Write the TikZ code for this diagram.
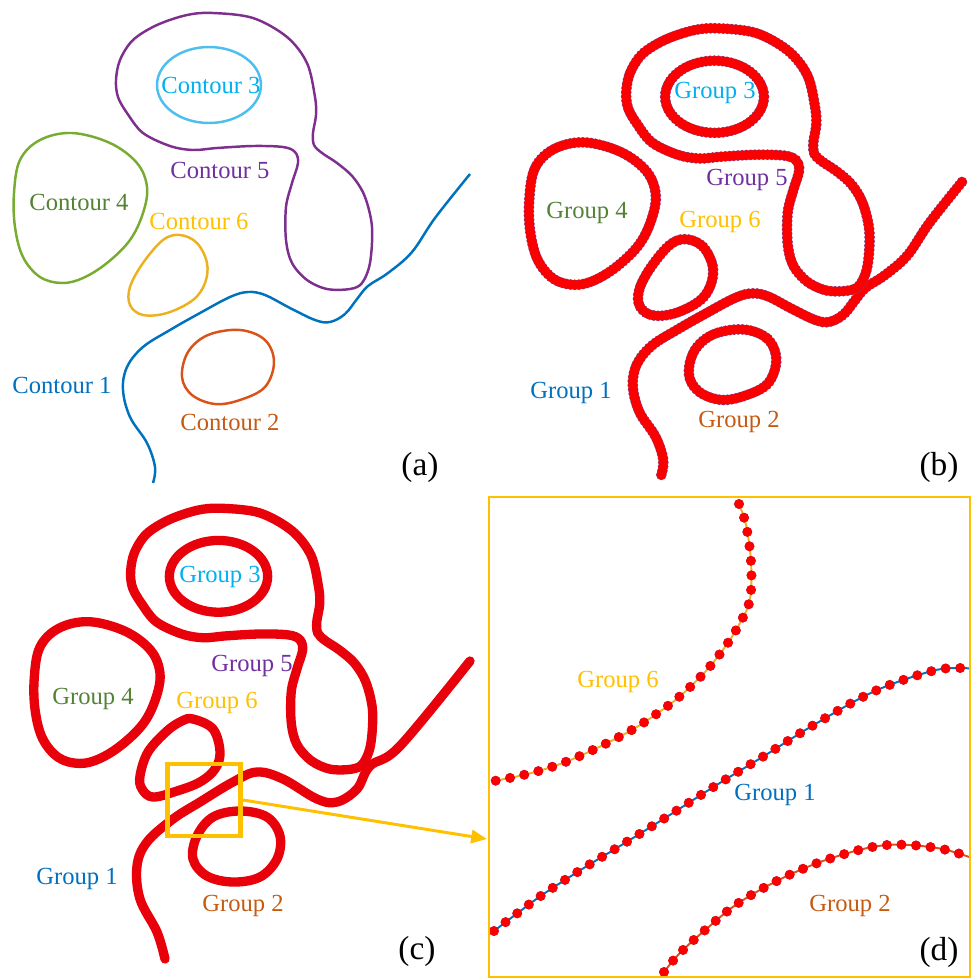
\documentclass[tikz,border=0pt]{standalone}
\usepackage{fontspec}
\setmainfont{Liberation Serif}
\usetikzlibrary{arrows.meta,positioning}
\definecolor{lineone}{RGB}{0,114,189}
\definecolor{linetwo}{RGB}{217,83,25}
\definecolor{linethree}{RGB}{77,190,238}
\definecolor{linefour}{RGB}{119,172,48}
\definecolor{linefive}{RGB}{126,47,142}
\definecolor{linesix}{RGB}{237,177,32}
\definecolor{txtone}{RGB}{0,112,192}
\definecolor{txttwo}{RGB}{197,90,17}
\definecolor{txtthree}{RGB}{0,176,240}
\definecolor{txtfour}{RGB}{84,130,53}
\definecolor{txtfive}{RGB}{112,48,160}
\definecolor{txtsix}{RGB}{255,192,0}
\definecolor{dotred}{RGB}{250,0,0}
\definecolor{dotrim}{RGB}{130,70,140}
\definecolor{fatred}{RGB}{232,0,10}
\definecolor{frameyellow}{RGB}{255,192,0}

% contour shapes of panel (a), pixel units
\def\conone{plot[smooth,tension=.6] coordinates {(153,483) (155,467) (147,443) (130,417) (123,390) (127,367) (143,347) (170,330) (200,313) (230,297) (248,292) (265,295) (290,308) (315,320) (330,322) (345,314) (357,299) (368,286) (388,273) (412,252) (435,218) (470,174)}}
\def\contwo{plot[smooth cycle,tension=.6] coordinates {(240,330) (265,340) (274,362) (265,387) (240,400) (215,404) (192,395) (182,377) (188,352) (208,335)}}
\def\conthree{(209,85) ellipse [x radius=52, y radius=38]}
\def\confour{plot[smooth cycle,tension=.6] coordinates {(72,133) (110,143) (137,163) (147,187) (143,213) (130,240) (107,263) (83,278) (62,283) (40,277) (23,257) (15,227) (14,193) (20,160) (40,140)}}
\def\confive{plot[smooth cycle,tension=.55] coordinates {(116,80) (120,60) (133,40) (157,25) (187,15) (213,13) (253,18) (287,37) (307,63) (315,97) (316,115) (313,133) (314,145) (322,153) (337,163) (353,177) (365,197) (372,227) (370,263) (362,283) (350,289) (327,289) (307,280) (292,263) (286,240) (286,207) (292,183) (298,163) (295,152) (283,147) (253,146) (217,148) (193,150) (170,146) (143,133) (127,113) (118,97)}}
\def\consix{plot[smooth cycle,tension=.6] coordinates {(180,235) (197,243) (207,263) (205,283) (193,300) (167,313) (143,315) (130,305) (130,287) (143,263) (163,240)}}
% shapes that moved in panel (c)
\def\gcone{plot[smooth,tension=.6] coordinates {(165,959) (157,932) (140,899) (137,866) (147,842) (173,819) (200,802) (233,782) (257,772) (283,779) (317,799) (337,802) (357,789) (370,766) (400,746) (470,661)}}
\def\gctwo{plot[smooth cycle,tension=.6] coordinates {(240,811) (267,817) (280,836) (277,859) (260,877) (233,882) (207,876) (193,859) (197,836) (213,817)}}
\def\gcsix{plot[smooth cycle,tension=.6] coordinates {(193,719) (213,729) (220,752) (215,769) (200,782) (177,791) (153,797) (142,789) (140,776) (148,752) (167,731) (182,721)}}
% zoomed pieces of panel (d)
\def\gdsix{plot[smooth,tension=.6] coordinates {(739,504) (746,525) (751,562) (750,599) (740,623) (725,647) (705,672) (679,697) (655,715) (630,731) (597,748) (568,761) (542,770) (519,776) (494,781)}}
\def\gdone{plot[smooth,tension=.6] coordinates {(494,931) (515,915) (545,893) (587,866) (620,846) (665,818) (715,786) (764,756) (817,723) (875,691) (932,671) (960,668) (972,669)}}
\def\gdtwo{plot[smooth,tension=.6] coordinates {(664,972) (679,954) (704,931) (740,902) (789,875) (838,856) (887,845) (937,848) (972,858)}}

\begin{document}
\begin{tikzpicture}[x=0.02cm,y=-0.02cm,
  contour/.style={line width=1.4pt},
  beads/.style n args={3}{postaction={draw=dotrim,line width=#3,dash pattern=on 0pt off #1,line cap=round},
    postaction={draw=dotred,line width=#2,dash pattern=on 0pt off #1,line cap=round}},
  fatline/.style={draw=fatred,line width=5.3pt,line cap=round},
  lbl/.style={font=\fontsize{14}{16}\selectfont,inner sep=0pt},
  tag/.style={font=\fontsize{19}{22}\selectfont,inner sep=0pt},
  zoomframe/.style={draw=frameyellow,line width=2.8pt,minimum width=1.46cm,minimum height=1.44cm},
  pointer/.style={draw=frameyellow,line width=1.7pt,-{Triangle[length=9pt,width=7.5pt]}}]
\useasboundingbox (0,0) rectangle (974,978);
% (a) extracted contours
\draw[contour,lineone] \conone;
\draw[contour,linetwo] \contwo;
\draw[contour,linethree] \conthree;
\draw[contour,linefour] \confour;
\draw[contour,linefive] \confive;
\draw[contour,linesix] \consix;
\node[lbl,text=txtthree] (a-c3) at (211,85) {Contour 3};
\node[lbl,text=txtfive] (a-c5) at (220,170) {Contour 5};
\node[lbl,text=txtfour] (a-c4) at (79,202) {Contour 4};
\node[lbl,text=txtsix] (a-c6) at (199,221) {Contour 6};
\node[lbl,text=txtone] (a-c1) at (62,385) {Contour 1};
\node[lbl,text=txttwo] (a-c2) at (230,422) {Contour 2};
\node[tag] (tag-a) at (420,467) {(a)};
% (b) sampled points on each contour
\begin{scope}[shift={(516,16)},scale=.95]
\draw[contour,lineone,beads={2.4pt}{5.6pt}{6.1pt}] \conone;
\draw[contour,linetwo,beads={2.4pt}{5.6pt}{6.1pt}] \contwo;
\draw[contour,linethree,beads={2.4pt}{5.6pt}{6.1pt}] \conthree;
\draw[contour,linefour,beads={2.4pt}{5.6pt}{6.1pt}] \confour;
\draw[contour,linefive,beads={2.4pt}{5.6pt}{6.1pt}] \confive;
\draw[contour,linesix,beads={2.4pt}{5.6pt}{6.1pt}] \consix;
\end{scope}
\node[lbl,text=txtthree] (b-g3) at (715,93) {Group 3};
\node[lbl,text=txtfive] (b-g5) at (747,180) {Group 5};
\node[lbl,text=txtfour] (b-g4) at (587,213) {Group 4};
\node[lbl,text=txtsix] (b-g6) at (720,222) {Group 6};
\node[lbl,text=txtone] (b-g1) at (571,393) {Group 1};
\node[lbl,text=txttwo] (b-g2) at (739,422) {Group 2};
\node[tag] (tag-b) at (939,467) {(b)};
% (c) groups drawn as thick strokes
\begin{scope}[shift={(21,496)},scale=.945]
\draw[fatline] \conthree;
\draw[fatline] \confour;
\draw[fatline] \confive;
\end{scope}
\draw[fatline] \gcone;
\draw[fatline] \gctwo;
\draw[fatline] \gcsix;
\node[lbl,text=txtthree] (c-g3) at (220,577) {Group 3};
\node[lbl,text=txtfive] (c-g5) at (252,666) {Group 5};
\node[lbl,text=txtfour] (c-g4) at (93,699) {Group 4};
\node[lbl,text=txtsix] (c-g6) at (217,703) {Group 6};
\node[lbl,text=txtone] (c-g1) at (77,879) {Group 1};
\node[lbl,text=txttwo] (c-g2) at (243,906) {Group 2};
\node[tag] (tag-c) at (417,951) {(c)};
\node[zoomframe] (zoombox) at (204,800) {};
% (d) close-up of the boxed region
\begin{scope}
\clip (489,497) rectangle (970,977);
\draw[line width=1.1pt,linesix,beads={8.3pt}{5.6pt}{5.6pt}] \gdsix;
\draw[line width=1.1pt,lineone,beads={8.3pt}{5.6pt}{5.6pt}] \gdone;
\draw[line width=1.1pt,linetwo,beads={8.3pt}{5.6pt}{5.6pt}] \gdtwo;
\end{scope}
\node[draw=frameyellow,line width=1.6pt,minimum width=9.62cm,minimum height=9.6cm] (panel-d) at (729.5,737) {};
\node[lbl,text=txtsix] (d-g6) at (618,682) {Group 6};
\node[lbl,text=txtone] (d-g1) at (775,795) {Group 1};
\node[lbl,text=txttwo] (d-g2) at (850,906) {Group 2};
\node[tag] (tag-d) at (939,952) {(d)};
\coordinate (arrowtip) at (487,839);
\draw[pointer] (zoombox.east) -- (arrowtip);
\end{tikzpicture}
\end{document}
